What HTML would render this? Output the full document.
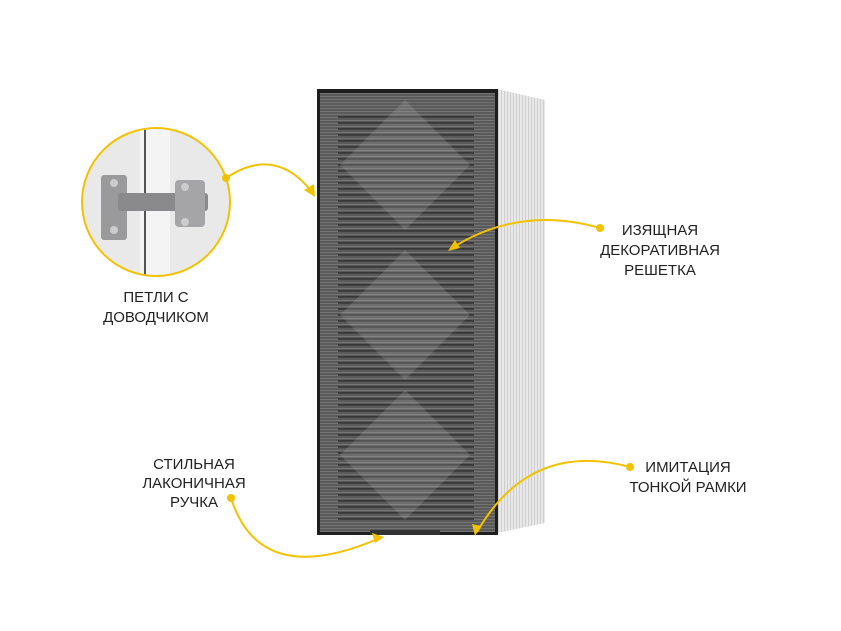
<!DOCTYPE html>
<html><head><meta charset="utf-8"><style>
html,body{margin:0;padding:0;background:#fff;width:841px;height:631px;overflow:hidden}
svg{display:block}
text{font-family:"Liberation Sans",sans-serif;font-size:15px;fill:#222;text-anchor:middle}
</style></head><body>
<svg width="841" height="631" viewBox="0 0 841 631" xmlns="http://www.w3.org/2000/svg">
<defs>
<pattern id="st" width="4" height="3" patternUnits="userSpaceOnUse">
<rect width="4" height="3" fill="#5a5a5a"/><rect y="0" width="4" height="1" fill="#747474"/>
</pattern>
<pattern id="sl" width="6" height="6" patternUnits="userSpaceOnUse">
<rect y="2" width="6" height="2" fill="#111"/>
</pattern>
<pattern id="sd" width="3" height="4" patternUnits="userSpaceOnUse">
<rect width="3" height="4" fill="#e8e8e8"/><rect width="1" height="4" fill="#cfcfcf"/>
</pattern>
<clipPath id="cc"><circle cx="156" cy="202" r="73"/></clipPath>
</defs>
<polygon points="497,89 545,100 545,523 497,533" fill="url(#sd)"/>
<rect x="317" y="89" width="181" height="446" fill="#1e1e1e"/>
<rect x="320" y="93" width="175" height="439" fill="url(#st)"/>
<rect x="338" y="115" width="136" height="405" fill="url(#sl)" opacity="0.5"/>
<g opacity="0.25" fill="#aaa">
<polygon points="405,100 470,165 405,230 340,165"/>
<polygon points="405,250 470,315 405,380 340,315"/>
<polygon points="405,390 470,455 405,520 340,455"/>
</g>
<rect x="370" y="530" width="70" height="5" fill="#333"/>
<circle cx="156" cy="202" r="74" fill="#e9e9ea" stroke="#f2c200" stroke-width="2"/>
<g clip-path="url(#cc)">
<rect x="140" y="120" width="30" height="170" fill="#f4f4f5"/>
<line x1="145" y1="120" x2="145" y2="290" stroke="#555" stroke-width="2"/>
<rect x="101" y="175" width="26" height="65" rx="3" fill="#9a9a9c"/>
<rect x="118" y="193" width="90" height="18" rx="3" fill="#8a8a8c"/>
<rect x="175" y="180" width="30" height="47" rx="4" fill="#a5a5a7"/>
<circle cx="114" cy="183" r="4" fill="#ccc"/><circle cx="114" cy="230" r="4" fill="#ccc"/>
<circle cx="185" cy="187" r="4" fill="#ccc"/><circle cx="185" cy="222" r="4" fill="#ccc"/>
</g>
<g fill="none" stroke="#f2c200" stroke-width="2">
<path d="M226,178 Q275,145 312,192"/>
<path d="M600,228 Q520,205 452,248"/>
<path d="M630,467 Q530,440 477,532"/>
<path d="M231,498 Q260,590 380,538"/>
</g>
<g fill="#f2c200">
<circle cx="226" cy="178" r="4"/><circle cx="600" cy="228" r="4"/>
<circle cx="630" cy="467" r="4"/><circle cx="231" cy="498" r="4"/>
<polygon points="315,197 304,190 314,184"/>
<polygon points="448,251 455,240 460,248"/>
<polygon points="475,536 472,524 481,526"/>
<polygon points="384,537 372,533 375,543"/>
</g>
<text x="156" y="302">ПЕТЛИ С</text>
<text x="156" y="322">ДОВОДЧИКОМ</text>
<text x="660" y="235">ИЗЯЩНАЯ</text>
<text x="660" y="255">ДЕКОРАТИВНАЯ</text>
<text x="660" y="275">РЕШЕТКА</text>
<text x="688" y="472">ИМИТАЦИЯ</text>
<text x="688" y="492">ТОНКОЙ РАМКИ</text>
<text x="194" y="469">СТИЛЬНАЯ</text>
<text x="194" y="488">ЛАКОНИЧНАЯ</text>
<text x="194" y="507">РУЧКА</text>
</svg>
</body></html>
